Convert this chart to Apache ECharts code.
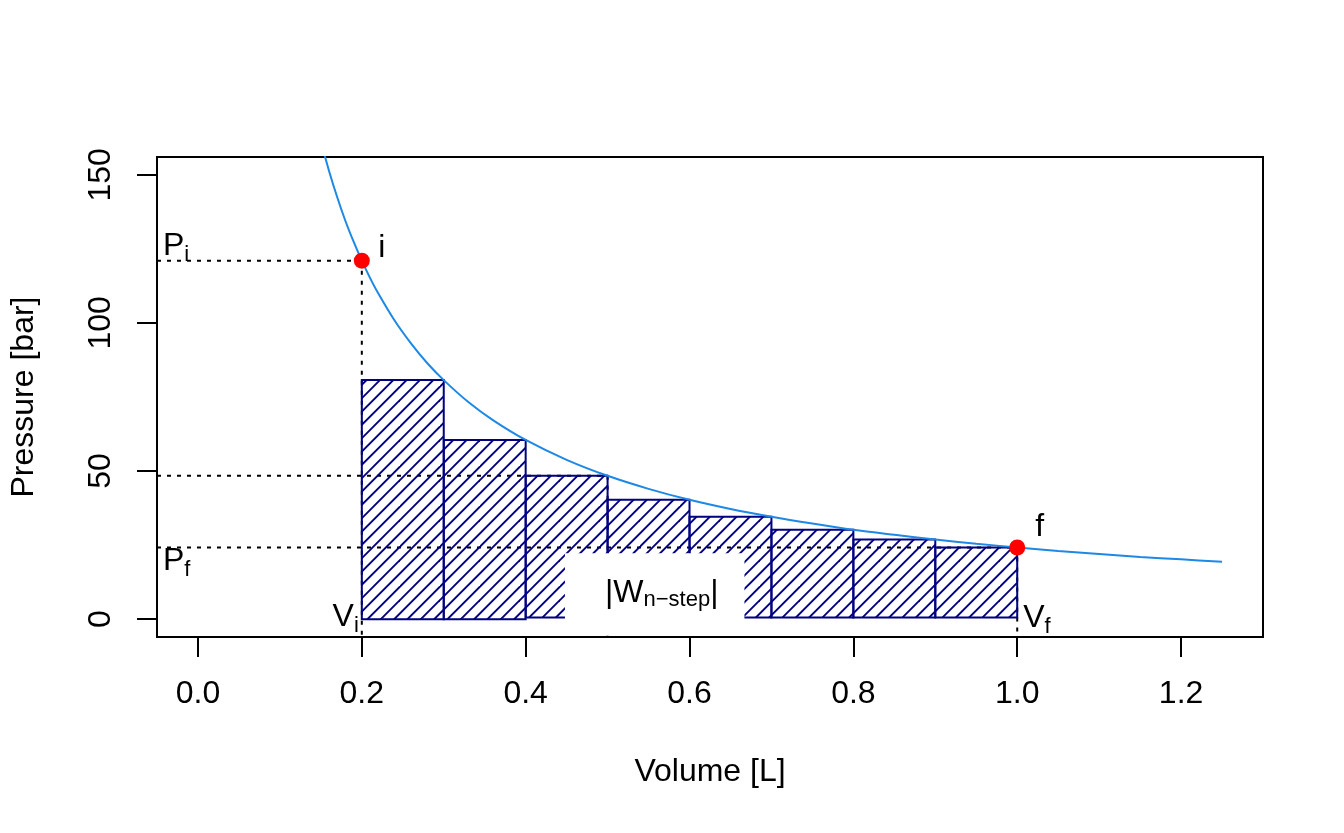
<!DOCTYPE html>
<html lang="en">
<head>
<meta charset="UTF-8">
<title>n-step expansion work</title>
<style>
  html, body { margin: 0; padding: 0; background: #fff; }
  #chart { width: 1344px; height: 833px; }
</style>
</head>
<body>
<div id="chart"></div>
<script src="https://cdn.jsdelivr.net/npm/echarts@6/dist/echarts.min.js"></script>
<script>
    // isotherm
    var curveV = [0.15, 0.16, 0.17, 0.18, 0.19, 0.2, 0.21, 0.22, 0.24, 0.26, 0.28, 0.3, 0.33, 0.36, 0.4,
                  0.45, 0.5, 0.55, 0.6, 0.65, 0.7, 0.75, 0.8, 0.85, 0.9, 0.95, 1.0, 1.05, 1.1, 1.15, 1.2, 1.25];
    var curveP = [161.3, 151.3, 142.4, 134.4, 127.4, 121, 115.2, 110, 100.8, 93.1, 86.4, 80.7, 73.3, 67.2, 60.5,
                  53.8, 48.4, 44, 40.3, 37.2, 34.6, 32.3, 30.2, 28.5, 26.9, 25.5, 24.2, 23, 22, 21, 20.2, 19.4];

    // the n steps
    var stepLeft  = [0.2, 0.3, 0.4, 0.5, 0.6, 0.7, 0.8, 0.9];
    var stepRight = [0.3, 0.4, 0.5, 0.6, 0.7, 0.8, 0.9, 1.0];
    var stepP     = [80.7, 60.5, 48.4, 40.3, 34.6, 30.2, 26.9, 24.2];
    var stepBase  = [0, 0, 0.6, 0.6, 0.6, 0.6, 0.6, 0.6];

    // states i and f
    var Vi = 0.2, Pi = 121;
    var Vf = 1.0, Pf = 24.2;
    var Vmid = 0.5, Pmid = 48.4;

    var xTicks = [0, 0.2, 0.4, 0.6, 0.8, 1.0, 1.2];
    var yTicks = [0, 50, 100, 150];
    var xRange = [-0.05, 1.3];
    var yRange = [-6, 156];

    var FONT = "'Liberation Sans', Arial, Helvetica, sans-serif";
    var NAVY = '#000080';

    function hatchCanvas() {
        var c = document.createElement('canvas');
        c.width = 40; c.height = 40;
        var g = c.getContext('2d');
        g.strokeStyle = NAVY;
        g.lineWidth = 1.9;
        var step = 40 / 3;
        for (var k = 0; k <= 6; k++) {
            var d = k * step;
            g.beginPath();
            g.moveTo(d + 3, -3);
            g.lineTo(-3, d + 3);
            g.stroke();
        }
        return c;
    }
    var hatch = hatchCanvas();

    var guides = [
        [[xRange[0], Pi], [Vi, Pi]],
        [[Vi, Pi], [Vi, yRange[0]]],
        [[xRange[0], Pmid], [Vmid, Pmid]],
        [[Vmid, Pmid], [Vmid, yRange[0]]],
        [[xRange[0], Pf], [Vf, Pf]],
        [[Vf, Pf], [Vf, yRange[0]]]
    ];

    var series = [];
    guides.forEach(function (seg) {
        series.push({
            type: 'line', data: seg, symbol: 'none', silent: true, z: 1,
            lineStyle: { color: '#000', width: 2, type: [4, 6] }
        });
    });

    series.push({
        type: 'custom', silent: true, z: 3,
        data: stepLeft.map(function (v, i) { return [v, stepRight[i], stepBase[i], stepP[i]]; }),
        encode: { x: [0, 1], y: [2, 3] },
        renderItem: function (params, api) {
            var a = api.coord([api.value(0), api.value(3)]);
            var b = api.coord([api.value(1), api.value(2)]);
            return {
                type: 'rect',
                shape: { x: a[0], y: a[1], width: b[0] - a[0], height: b[1] - a[1] },
                style: { fill: { image: hatch, repeat: 'repeat' }, stroke: NAVY, lineWidth: 2 }
            };
        }
    });

    series.push({
        type: 'line', symbol: 'none', silent: true, z: 4, smooth: 0.3,
        data: curveV.map(function (v, i) { return [v, curveP[i]]; }),
        lineStyle: { color: '#1e88e5', width: 2 }
    });

    // white box with |W n-step|
    series.push({
        type: 'scatter', symbolSize: 0, silent: true, z: 5, clip: false,
        itemStyle: { opacity: 1 },
        data: [[0.5575, 8.6]],
        label: {
            show: true, position: 'inside', opacity: 1,
            formatter: '{w||W}{ws|n\u2212step}{w||}',
            backgroundColor: '#ffffff',
            padding: [22, 26, 23, 40],
            rich: {
                w: { fontFamily: FONT, fontSize: 32, lineHeight: 36, color: '#000' },
                ws: { fontFamily: FONT, fontSize: 22, lineHeight: 28, color: '#000', verticalAlign: 'bottom' }
            }
        }
    });

    // P_i, P_f, V_i, V_f, i, f
    var rich = {
        m: { fontFamily: FONT, fontSize: 32, lineHeight: 40, color: '#000' },
        s: { fontFamily: FONT, fontSize: 22, lineHeight: 20, color: '#000', verticalAlign: 'bottom' }
    };
    function note(pt, text, align, off) {
        return { value: pt, label: { formatter: text, align: align, offset: off } };
    }
    series.push({
        type: 'scatter', symbolSize: 0, silent: true, z: 6, clip: false,
        itemStyle: { opacity: 1 },
        label: { show: true, position: 'inside', opacity: 1, rich: rich },
        data: [
            note([xRange[0], Pi], '{m|P}{s|i}', 'left', [6, -14.7]),
            note([xRange[0], Pf], '{m|P}{s|f}', 'left', [6, 13.3]),
            note([Vi, 0], '{m|V}{s|i}', 'right', [-3, -2.3]),
            note([Vf, 0], '{m|V}{s|f}', 'left', [6, -1.5]),
            note([Vi, Pi], '{m|i}', 'left', [16.5, -12.7]),
            note([Vf, Pf], '{m|f}', 'left', [18, -20.5])
        ]
    });

    series.push({
        type: 'scatter', symbolSize: 16, silent: true, z: 7,
        itemStyle: { color: '#ff0000', opacity: 1 },
        data: [[Vi, Pi], [Vf, Pf]]
    });

    var chart = echarts.init(document.getElementById('chart'));
    chart.setOption({
        animation: false,
        backgroundColor: '#fff',
        grid: {
            left: 157, right: 81, top: 157, bottom: 196,
            show: true, borderColor: '#000', borderWidth: 2, backgroundColor: 'transparent',
            outerBoundsMode: 'none'
        },
        xAxis: {
            type: 'value', min: xRange[0], max: xRange[1],
            name: 'Volume [L]', nameLocation: 'middle', nameGap: 119, nameMoveOverlap: false,
            nameTextStyle: { fontFamily: FONT, fontSize: 32, color: '#000' },
            axisLine: { show: false, onZero: false },
            axisTick: { show: true, inside: false, length: 20, customValues: xTicks,
                        lineStyle: { color: '#000', width: 2 } },
            axisLabel: { customValues: xTicks, margin: 41, fontFamily: FONT, fontSize: 32, color: '#000',
                         formatter: function (v) { return v.toFixed(1); } },
            splitLine: { show: false }
        },
        yAxis: {
            type: 'value', min: yRange[0], max: yRange[1],
            name: 'Pressure [bar]', nameLocation: 'middle', nameGap: 117, nameMoveOverlap: false,
            nameTextStyle: { fontFamily: FONT, fontSize: 32, color: '#000' },
            axisLine: { show: false, onZero: false },
            axisTick: { show: true, inside: false, length: 20, customValues: yTicks,
                        lineStyle: { color: '#000', width: 2 } },
            axisLabel: { customValues: yTicks, margin: 40, rotate: 90, fontFamily: FONT, fontSize: 32, color: '#000' },
            splitLine: { show: false }
        },
        series: series
    });
</script>
</body>
</html>
